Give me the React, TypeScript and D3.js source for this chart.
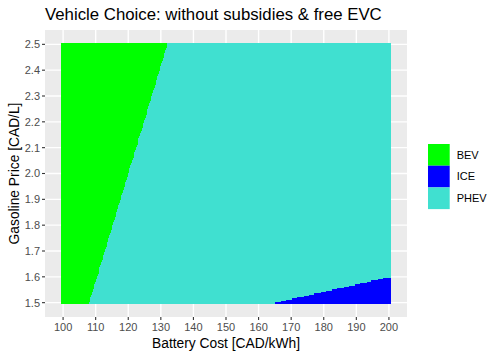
import React from "react";
import * as d3 from "d3";

// Grid of the raster (battery cost step 0.25, gasoline price step 0.005)
const costStep = 0.25;
const gasStep = 0.005;
const batteryCost: number[] = d3.range(0, 401).map((i) => 100 + i * costStep);
const gasPrice: number[] = d3.range(0, 201).map((i) => +(1.5 + i * gasStep).toFixed(4));

// Decision boundaries
const bevBoundaryGas = [1.5, 2.5];
const bevBoundaryCost = [108, 132];
const iceBoundaryCost = [165, 200];
const iceBoundaryGas = [1.5, 1.6];

const categories = ["BEV", "ICE", "PHEV"];
const colors = ["#00FF00", "#0000FF", "#40E0D0"];

const xTicks = [100, 110, 120, 130, 140, 150, 160, 170, 180, 190, 200];
const yTicks = [1.5, 1.6, 1.7, 1.8, 1.9, 2.0, 2.1, 2.2, 2.3, 2.4, 2.5];

const title = "Vehicle Choice: without subsidies & free EVC";
const xTitle = "Battery Cost [CAD/kWh]";
const yTitle = "Gasoline Price [CAD/L]";

const W = 500;
const H = 357;
const panel = { left: 45, right: 407, top: 30, bottom: 317 };
const font = "'Liberation Sans', Arial, Helvetica, sans-serif";

export default function App() {
  const xlo = 99.5, xhi = 200.5, ylo = 1.495, yhi = 2.505;
  const xe = (xhi - xlo) * 0.05;
  const ye = (yhi - ylo) * 0.05;
  const x = d3.scaleLinear().domain([xlo - xe, xhi + xe]).range([panel.left, panel.right]);
  const y = d3.scaleLinear().domain([ylo - ye, yhi + ye]).range([panel.bottom, panel.top]);
  const color = d3.scaleOrdinal<string, string>().domain(categories).range(colors);

  const bevB = d3.scaleLinear().domain(bevBoundaryGas).range(bevBoundaryCost);
  const iceB = d3.scaleLinear().domain(iceBoundaryCost).range(iceBoundaryGas);

  const classify = (c: number, g: number) => {
    if (c < bevB(g)) return "BEV";
    if (c >= iceBoundaryCost[0] && g < iceB(c)) return "ICE";
    return "PHEV";
  };

  // Raster drawn row by row, merging consecutive cells of the same class
  const cellsX0 = x(99.5);
  const cellsX1 = x(200.5);
  const runs: JSX.Element[] = [];
  gasPrice.forEach((g, j) => {
    const top = j === gasPrice.length - 1 ? y(2.505) : y(g + gasStep / 2);
    const bottom = j === 0 ? y(1.495) : y(g - gasStep / 2);
    let start = 0;
    let cur = classify(batteryCost[0], g);
    for (let i = 1; i <= batteryCost.length; i++) {
      const cls = i < batteryCost.length ? classify(batteryCost[i], g) : null;
      if (cls !== cur) {
        const xa = start === 0 ? cellsX0 : x(batteryCost[start] - costStep / 2);
        const xb = i === batteryCost.length ? cellsX1 : x(batteryCost[i] - costStep / 2);
        runs.push(
          <rect key={`${j}-${start}`} x={xa} y={top} width={xb - xa} height={bottom - top + 0.3} fill={color(cur)} />
        );
        start = i;
        cur = cls as string;
      }
    }
  });

  const keySize = 21.7;
  const legendX = 428;
  const legendY = 144;

  return (
    <svg width={W} height={H} style={{ display: "block", position: "absolute", left: 0, top: 0 }} fontFamily={font}>
      <rect x={0} y={0} width={W} height={H} fill="white" />
      <rect x={panel.left} y={panel.top} width={panel.right - panel.left} height={panel.bottom - panel.top} fill="#EBEBEB" />
      {xTicks.map((t) => (
        <line key={`gx${t}`} x1={x(t)} x2={x(t)} y1={panel.top} y2={panel.bottom} stroke="white" strokeWidth={1.4} />
      ))}
      {yTicks.map((t) => (
        <line key={`gy${t}`} x1={panel.left} x2={panel.right} y1={y(t)} y2={y(t)} stroke="white" strokeWidth={1.4} />
      ))}
      <g shapeRendering="crispEdges">{runs}</g>
      {xTicks.map((t) => (
        <g key={`tx${t}`}>
          <line x1={x(t)} x2={x(t)} y1={panel.bottom} y2={panel.bottom + 3} stroke="#333333" strokeWidth={1.1} />
          <text x={x(t)} y={panel.bottom + 14} textAnchor="middle" fontSize={11} fill="#4D4D4D">{t}</text>
        </g>
      ))}
      {yTicks.map((t) => (
        <g key={`ty${t}`}>
          <line x1={panel.left - 3} x2={panel.left} y1={y(t)} y2={y(t)} stroke="#333333" strokeWidth={1.1} />
          <text x={panel.left - 5} y={y(t)} dy="0.35em" textAnchor="end" fontSize={11} fill="#4D4D4D">{t.toFixed(1)}</text>
        </g>
      ))}
      <text x={(panel.left + panel.right) / 2} y={348} textAnchor="middle" fontSize={13.8} fill="black">{xTitle}</text>
      <text transform={`translate(18.5, ${(panel.top + panel.bottom) / 2}) rotate(-90)`} textAnchor="middle" fontSize={13.8} fill="black">{yTitle}</text>
      <text x={panel.left} y={20} fontSize={16.8} fill="black">{title}</text>
      {categories.map((c, i) => (
        <g key={c}>
          <rect x={legendX} y={legendY + i * keySize} width={keySize} height={keySize} fill={color(c)} />
          <text x={legendX + keySize + 7} y={legendY + i * keySize + keySize / 2} dy="0.35em" fontSize={11} fill="black">{c}</text>
        </g>
      ))}
    </svg>
  );
}
